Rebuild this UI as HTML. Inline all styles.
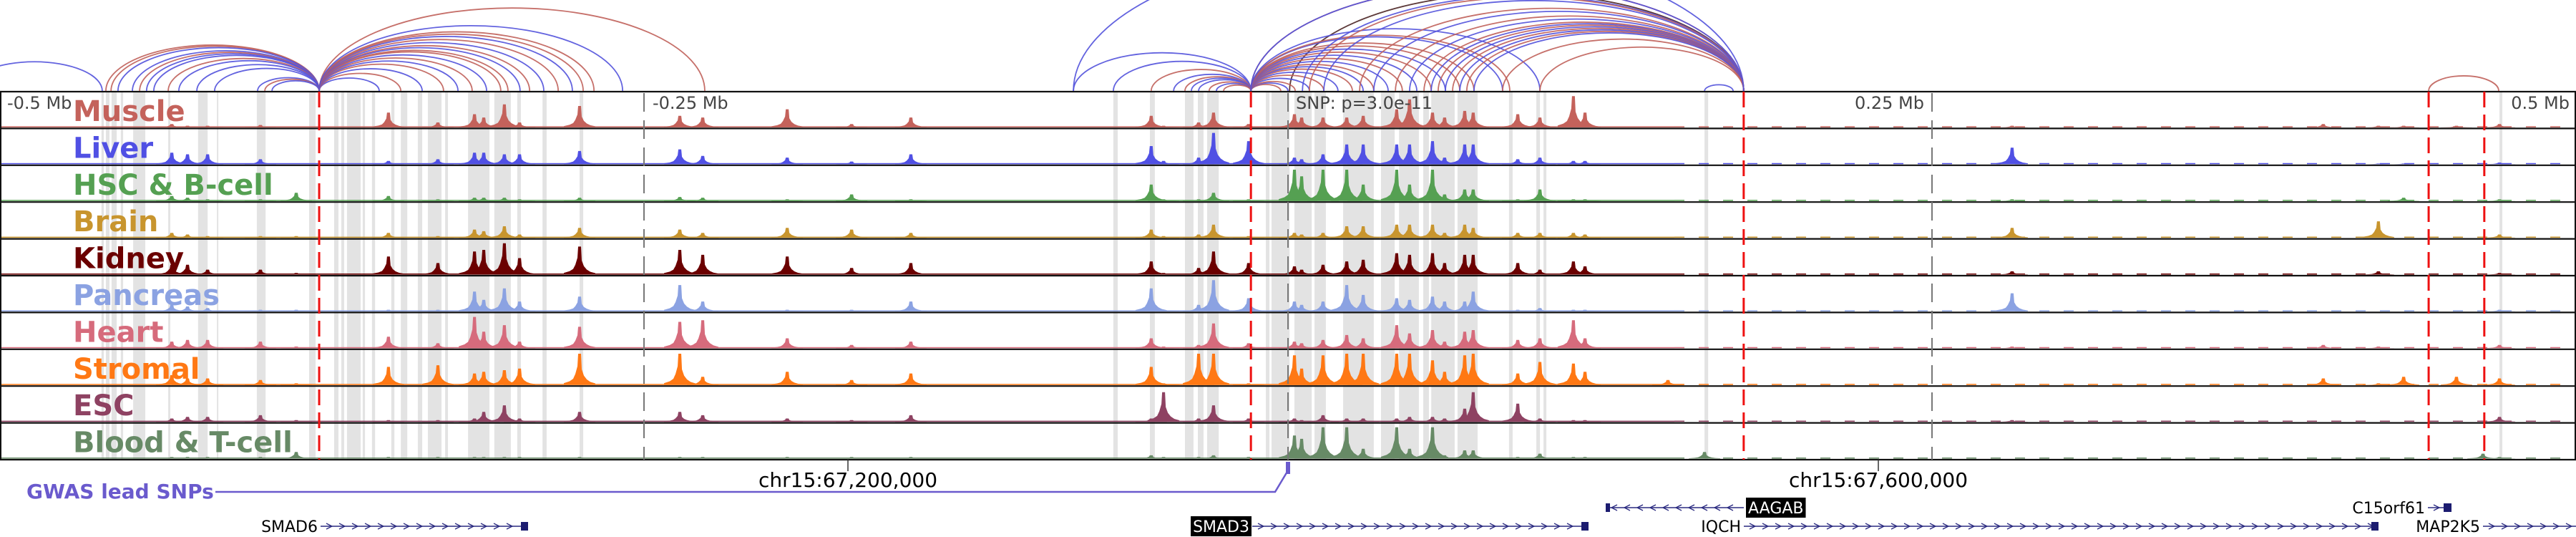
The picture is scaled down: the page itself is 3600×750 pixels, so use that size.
<!DOCTYPE html>
<html><head><meta charset="utf-8"><style>
html,body{margin:0;padding:0;background:#fff;}
svg{display:block;font-family:"DejaVu Sans","Liberation Sans",sans-serif;}
</style></head><body>
<svg id="chart" width="3600" height="750" viewBox="0 0 3600 750" xmlns="http://www.w3.org/2000/svg">
<defs><clipPath id="arcclip"><rect x="0" y="0" width="3600" height="127"/></clipPath></defs>
<g id="bands"></g>
<g id="signals"></g>
<g id="frame"></g>
<g id="arcs" clip-path="url(#arcclip)"></g>
<g id="vlines"></g>
<g id="labels"></g>
<g id="genes"></g>
</svg>
<script>
// ---- data ----
const tracks = ["Muscle","Liver","HSC & B-cell","Brain","Kidney","Pancreas","Heart","Stromal","ESC","Blood & T-cell"];
const trackColors = ["#c4625b","#5050e4","#55a052","#c8952e","#6b0000","#8ba2e2","#d66b7c","#ff7814","#8e4262","#678a66"];
const peakKb = [-433.3,-427.2,-419.4,-398.9,-385,-349.2,-330,-315.8,-312.2,-304.2,-298.3,-275,-236.1,-227.2,-53.1,-48.3,-34.7,-28.9,-15.3,2.5,5.3,13.6,22.8,29.2,42.2,47.2,56.1,60.8,68.6,71.9,89.2,97.8,110.8,115.3,147.5,161.7,281.1,401.9,423.3,433.1,453.6,463.9,470.3,-194.4,-169.4,-146.4];
const muscleVals  = [.1,.05,.05,.07,0,.45,.15,.4,.3,.7,.15,.65,.35,.3,.35,.05,.15,.45,.1,.4,.3,.3,.3,.35,.55,.85,.45,.3,.5,.45,.4,.3,.95,.45,0,0,.05,.1,.05,.05,.05,0,.1,.55,.1,.3];
const liverVals   = [.35,.3,.3,.15,0,.1,.15,.35,.35,.3,.3,.4,.45,.25,.55,.1,.2,.95,.7,.2,.15,.3,.6,.6,.6,.6,.7,.2,.6,.6,.15,.2,.1,.1,0,0,.5,0,.02,.02,0,0,.05,.2,.08,.3];
const hscVals     = [.15,.1,.05,.05,.25,.15,.05,.1,.1,.1,.05,.1,.12,.1,.5,.05,.05,.25,.05,.95,.75,.95,.95,.5,.95,.5,.95,.2,.35,.35,.05,.35,.05,.05,0,0,.05,0,0,.1,0,0,.05,.05,.2,.05];
const brainVals   = [.15,.1,.05,.05,.05,.15,.05,.25,.2,.35,.1,.3,.25,.15,.25,.05,.1,.4,.05,.15,.1,.15,.35,.35,.4,.4,.4,.15,.4,.3,.15,.15,.15,.1,0,0,.3,0,.5,0,0,0,.1,.3,.25,.15];
const kidneyVals  = [.3,.3,.15,.15,.05,.55,.35,.7,.75,.95,.5,.85,.75,.6,.4,.05,.2,.7,.35,.25,.15,.3,.4,.45,.65,.6,.65,.35,.6,.6,.35,.15,.4,.25,0,0,.1,0,.1,0,0,0,.05,.55,.2,.35];
const pancreasVals= [.2,.15,.1,.05,.05,.05,.05,.6,.35,.7,.3,.45,.8,.3,.7,.05,.2,.95,.4,.3,.2,.3,.8,.5,.4,.35,.45,.3,.3,.6,.05,.1,.05,.05,0,0,.55,0,0,0,0,0,.05,.05,.05,.3];
const heartVals   = [.2,.25,.25,.2,.05,.35,.15,.95,.5,.7,.2,.65,.8,.85,.3,.05,.1,.75,.15,.2,.15,.25,.4,.3,.7,.45,.55,.2,.5,.55,.25,.3,.85,.3,0,0,.05,.1,.05,0,0,0,.1,.3,.1,.2];
const stromalVals = [.3,.2,.2,.15,.05,.55,.6,.35,.4,.45,.5,.95,.95,.25,.55,.05,.95,.95,.05,.9,.5,.9,.95,.95,.95,.95,.75,.4,.9,.95,.35,.7,.65,.4,.15,0,0,.2,.05,.25,.25,0,.2,.4,.15,.35];
const escVals     = [.1,.15,.15,.2,.05,.05,.05,.1,.3,.5,.1,.3,.3,.2,.1,.9,.1,.5,.1,.1,.05,.2,.1,.1,.1,.15,.15,.1,.4,.9,.55,.1,.05,.05,0,0,.05,0,0,0,0,0,.15,.1,.05,.2];
const bloodVals   = [.05,.05,.05,.05,.2,.05,.05,.05,.05,.05,.05,.05,.05,.05,.1,.05,.05,.1,.05,.7,.6,.95,.95,.3,.95,.3,.95,.1,.25,.25,.05,.15,.05,.05,0,.2,0,0,0,0,0,.15,.05,.05,.05,.05];
const trackVals = [muscleVals,liverVals,hscVals,brainVals,kidneyVals,pancreasVals,heartVals,stromalVals,escVals,bloodVals];
const bandStartKb = [-460.6,-458.9,-456.7,-453.1,-448.3,-434.7,-423.1,-415.8,-400.3,-380,-370.3,-367.5,-365.3,-359.2,-355.6,-348.1,-344.4,-337.8,-333.9,-327.2,-318.3,-308.1,-299.2,-289.4,-275,-67.8,-53.6,-40,-35,-31.4,-8.6,-6.4,2.5,10.3,21.4,36.1,43.1,52.5,55.6,65.8,85.8,96.4,99.2,161.7,470.3];
const bandEndKb   = [-459.7,-457.5,-454.7,-452.2,-443.6,-433.9,-419.4,-415.3,-396.9,-377.5,-368.6,-366.4,-360,-358.3,-354.4,-346.9,-341.9,-336.1,-328.6,-326.1,-310,-301.7,-297.8,-287.8,-273.6,-66.1,-51.7,-36.7,-32.8,-26.9,-7.2,0.6,9.2,14.7,33.3,41.4,50.8,54.7,64.7,73.6,87.2,97.8,100.3,163.1,471.4];
const arcStartKb = [-513,-458.9,-456.9,-454.2,-448.6,-445.8,-443.1,-440.3,-434.7,-430.6,-423.6,-416.7,-400,-397.2,-394.4,
 -376.1,-376.1,-376.1,-376.1,-376.1,-376.1,-376.1,-376.1,-376.1,-376.1,-376.1,-376.1,-376.1,-376.1,-376.1,-376.1,-376.1,-376.1,
 -83.3,-67.8,-53.1,-44.4,-40,-37.5,-34.7,-30.6,-27.8,-25,-83.3,0.6,
 -14.4,-14.4,-14.4,-14.4,-14.4,-14.4,-14.4,-14.4,-14.4,-14.4,-14.4,-14.4,-14.4,-14.4,-14.4,-14.4,-14.4,-14.4,-14.4,-14.4,-14.4,
 27.8,33.3,41.7,47.2,52.8,55.6,58.3,61.1,63.9,66.7,69.4,72.2,83.3,97.8,5.6,8.3,13.9,161.7,442.8];
const arcEndKb = [-460.3,-376.1,-376.1,-376.1,-376.1,-376.1,-376.1,-376.1,-376.1,-376.1,-376.1,-376.1,-376.1,-376.1,-376.1,
 -352.8,-344.4,-336.1,-327.8,-322.2,-316.7,-311.1,-305.6,-302.8,-298.1,-294.4,-288.9,-283.3,-277.8,-273.6,-269.4,-226.4,-258.3,
 -14.4,-14.4,-14.4,-14.4,-14.4,-14.4,-14.4,-14.4,-14.4,-14.4,176.9,176.9,
 -2.8,0,2.8,8.3,13.9,19.4,25,29.2,33.3,38.9,44.4,50,55.6,61.1,66.7,72.2,83.3,86.1,97.8,176.9,176.9,
 176.9,176.9,176.9,176.9,176.9,176.9,176.9,176.9,176.9,176.9,176.9,176.9,176.9,176.9,176.9,176.9,176.9,172.8,470];
const arcColorKey = ["b","r","r","b","b","r","b","b","r","b","b","b","b","r","b",
 "b","r","b","r","b","r","b","r","r","b","r","b","r","b","r","r","r","b",
 "b","b","r","b","r","b","b","r","b","r","b","k",
 "r","b","r","b","r","b","r","b","r","b","r","b","r","b","r","r","b","r","b","r","b",
 "r","b","r","b","r","b","r","b","r","b","r","b","r","r","b","r","b","b","r"];
const axisTickKb = [-250,0,250];
const axisLabels = ["-0.5 Mb","-0.25 Mb","SNP: p=3.0e-11","0.25 Mb","0.5 Mb"];
const redLineKb = [-376.1,-14.4,176.9,442.8,464.4];

// ---- scales ----
const X0=1800, PXKB=3.6;
const x = kb => X0 + kb*PXKB;
const TOP=128, TH=51.4, NT=10;
const trackTop = i => TOP + i*TH;
const NS="http://www.w3.org/2000/svg";
function mk(tag, attrs, parent){const e=document.createElementNS(NS,tag);for(const k in attrs)e.setAttribute(k,attrs[k]);parent.appendChild(e);return e;}

// bands
const gB=document.getElementById('bands');
bandStartKb.forEach((s,i)=>{
  const r=mk('rect',{x:x(s),y:TOP,width:Math.max(2,x(bandEndKb[i])-x(s)),height:TH*NT,fill:'#e3e3e3'},gB);
  
  
});

// signals
const gS=document.getElementById('signals');
trackVals.forEach((vals,t)=>{
  const base=trackTop(t)+TH-1.5, col=trackColors[t];
  const g=mk('g',{fill:col},gS);
  
  
  mk('rect',{x:0,y:base-1.5,width:x(150),height:1.5},g);
  mk('line',{x1:x(150),y1:base-0.8,x2:3596,y2:base-0.8,stroke:col,'stroke-width':1.5,'stroke-dasharray':'14,20'},g);
  vals.forEach((v,i)=>{
    if(v<=0) return;
    const c=x(peakKb[i]), h=v*46;
    const d=`M${c-22},${base} L${c-22},${base-h*0.06} L${c-14},${base-h*0.12} L${c-9},${base-h*0.2} L${c-6},${base-h*0.35} L${c-3},${base-h*0.6} L${c-2},${base-h} L${c+2},${base-h} L${c+3},${base-h*0.5} L${c+6},${base-h*0.3} L${c+10},${base-h*0.18} L${c+15},${base-h*0.1} L${c+22},${base-h*0.05} L${c+22},${base} Z`;
    const p=mk('path',{d:d},g);
    
    
  });
});

// frame
const gF=document.getElementById('frame');
for(let i=0;i<=NT;i++){
  const l=mk('line',{x1:0,x2:3600,y1:trackTop(i),y2:trackTop(i),stroke:'#111','stroke-width':2.2},gF);
  
  
}
mk('line',{x1:1,x2:1,y1:TOP,y2:TOP+TH*NT,stroke:'#111','stroke-width':2},gF);
mk('line',{x1:3599,x2:3599,y1:TOP,y2:TOP+TH*NT,stroke:'#111','stroke-width':2},gF);

// arcs
const gA=document.getElementById('arcs');
const arcCols={b:'#5252dc',r:'#c0605a',k:'#4a2424'};
arcStartKb.forEach((s,i)=>{
  const x1=x(s), x2=x(arcEndKb[i]), span=Math.abs(x2-x1), h=0.215*span;
  const a=mk('path',{d:`M${x1},127 A${span/2},${h} 0 0 1 ${x2},127`,fill:'none',stroke:arcCols[arcColorKey[i]],'stroke-width':1.8,'stroke-opacity':0.9},gA);
  
  
});

// vertical lines
const gV=document.getElementById('vlines');
axisTickKb.forEach(k=>{
  const l=mk('line',{x1:x(k),x2:x(k),y1:TOP+2,y2:TOP+TH*NT,stroke:'#777','stroke-width':2,'stroke-dasharray':'26,12'},gV);
  
  
});
redLineKb.forEach(k=>{
  const l=mk('line',{x1:x(k),x2:x(k),y1:TOP,y2:TOP+TH*NT,stroke:'#ee1111','stroke-width':3,'stroke-dasharray':'22,10'},gV);
  
  
});
// axis labels
const axPos=[[10,'start'],[912,'start'],[1811,'start'],[2689,'end'],[3591,'end']];
axisLabels.forEach((t,i)=>{
  const e=mk('text',{x:axPos[i][0],y:152,'font-size':24,fill:'#444','text-anchor':axPos[i][1]},gV);
  e.textContent=t;
  
  
});

// track labels
const gL=document.getElementById('labels');
tracks.forEach((t,i)=>{
  const e=mk('text',{x:102,y:trackTop(i)+41,'font-size':40,'font-weight':'bold',fill:trackColors[i]},gL);
  e.textContent=t;
  
  
});
</script>
<svg style="position:absolute;left:0;top:0" width="3600" height="750">
<g font-family="DejaVu Sans, Liberation Sans, sans-serif">
 <text x="37" y="696" font-size="28" font-weight="bold" fill="#6a5acd">GWAS lead SNPs</text>
 <polyline points="301,687 1782,687 1800,657" fill="none" stroke="#6a5acd" stroke-width="2.5"/>
 <rect x="1797" y="645" width="6" height="17" fill="#6a5acd"/>
 <line x1="1185" y1="642" x2="1185" y2="658" stroke="#333" stroke-width="1.5"/>
 <line x1="2625" y1="642" x2="2625" y2="658" stroke="#333" stroke-width="1.5"/>
 <text x="1185" y="680" font-size="28" text-anchor="middle" fill="#000">chr15:67,200,000</text>
 <text x="2625" y="680" font-size="28" text-anchor="middle" fill="#000">chr15:67,600,000</text>
</g>
<g id="genelayer" font-family="DejaVu Sans, Liberation Sans, sans-serif" font-size="22"></g>
</svg>
<script>
(function(){
const NS="http://www.w3.org/2000/svg";
const g=document.getElementById('genelayer');
const geneNames=["SMAD6","SMAD3","AAGAB","IQCH","C15orf61","MAP2K5"];
const geneStart=[448,1750,2244,2437,3393,3470];
const geneEnd=[738,2220,2437,3324,3426,3600];
const geneRow=[1,1,0,1,0,1];
const geneDir=[1,1,-1,1,1,1];
const geneBoxed=[false,true,true,false,false,false];
const labelSide=["left","left","right","left","left","left"];
geneNames.forEach((n,i)=>{
  const y= geneRow[i]===0?709:735;
  const grp=document.createElementNS(NS,'g');g.appendChild(grp);
  
  
  const ln=document.createElementNS(NS,'line');
  [['x1',geneStart[i]],['x2',geneEnd[i]],['y1',y],['y2',y],['stroke','#2a2a80'],['stroke-width',1.5]].forEach(a=>ln.setAttribute(a[0],a[1]));grp.appendChild(ln);
  for(let cx=geneStart[i]+12;cx<geneEnd[i]-8;cx+=18){
    const p=document.createElementNS(NS,'polyline');
    const d=geneDir[i]*4;
    p.setAttribute('points',`${cx-d},${y-4} ${cx+d},${y} ${cx-d},${y+4}`);
    p.setAttribute('fill','none');p.setAttribute('stroke','#2a2a80');p.setAttribute('stroke-width',1.3);grp.appendChild(p);
  }
  const bx=document.createElementNS(NS,'rect');
  const bxX = geneDir[i]>0? (n==="C15orf61"?3415:geneEnd[i]-10) : geneStart[i];
  const bw = n==="MAP2K5"?0:(n==="C15orf61"?11:(geneDir[i]>0?10:6));
  [['x',bxX],['y',y-6],['width',bw],['height',12],['fill','#1c1c70']].forEach(a=>bx.setAttribute(a[0],a[1]));grp.appendChild(bx);
  const lx = labelSide[i]==="left"? geneStart[i]-4 : geneEnd[i]+6;
  const r=document.createElementNS(NS,'rect');
  if(geneBoxed[i]) grp.appendChild(r);
  const t=document.createElementNS(NS,'text');
  t.setAttribute('x', lx);
  t.setAttribute('y', y+8);
  t.setAttribute('text-anchor', labelSide[i]==="left"?'end':'start');
  t.setAttribute('fill', geneBoxed[i]?'#fff':'#000');
  t.textContent=n;
  grp.appendChild(t);
  if(geneBoxed[i]){
    const w=t.getComputedTextLength()+6;
    const rx = labelSide[i]==="left"? lx-w+3 : lx-3;
    [['x',rx],['y',y-14],['width',w],['height',28],['fill','#000']].forEach(a=>r.setAttribute(a[0],a[1]));
  }
});
})();
</script>
</body></html>
